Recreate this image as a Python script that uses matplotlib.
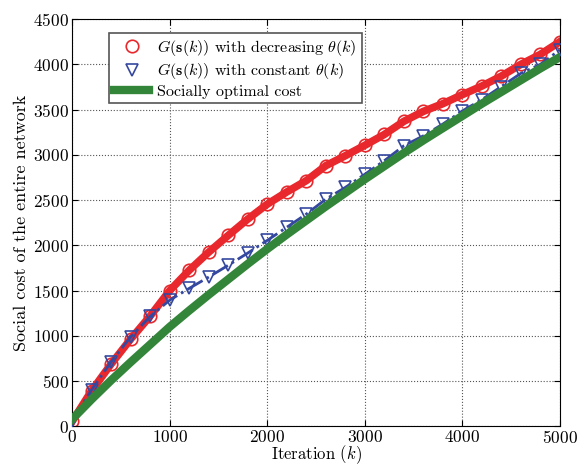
import matplotlib
matplotlib.use('Agg')
import matplotlib.pyplot as plt

iters = [0, 200, 400, 600, 800, 1000, 1200, 1400, 1600, 1800, 2000, 2200, 2400,
         2600, 2800, 3000, 3200, 3400, 3600, 3800, 4000, 4200, 4400, 4600, 4800, 5000]
cost_decreasing = [55, 395, 690, 965, 1220, 1500, 1725, 1925, 2110, 2290, 2455, 2590, 2715,
                   2880, 2990, 3105, 3225, 3370, 3480, 3565, 3665, 3760, 3870, 4000, 4110, 4250]
cost_constant = [60, 405, 715, 990, 1215, 1395, 1525, 1650, 1780, 1915, 2055, 2200, 2345,
                 2510, 2640, 2785, 2935, 3100, 3210, 3340, 3485, 3610, 3755, 3900, 4000, 4160]
cost_optimal = [80, 300, 510, 710, 905, 1100, 1280, 1455, 1625, 1795, 1960, 2120, 2275,
                2430, 2580, 2730, 2875, 3020, 3160, 3295, 3430, 3565, 3695, 3825, 3955, 4080]

plt.rcParams['font.family'] = 'serif'
plt.rcParams['font.serif'] = ['cmr10', 'DejaVu Serif']
plt.rcParams['mathtext.fontset'] = 'cm'
plt.rcParams['axes.formatter.use_mathtext'] = True

red = '#e8282c'
blue = '#3548a0'
green = '#33853a'

fig, ax = plt.subplots(figsize=(5.82, 4.65), dpi=100)
fig.subplots_adjust(left=0.124, right=0.962, bottom=0.083, top=0.959)

#lines first, markers separate so legend shows only the marker
ax.plot(iters, cost_decreasing, color=red, lw=5.5, zorder=2)
ax.plot(iters, cost_decreasing, 'o', color=red, mfc='none', mew=1.2, ms=9, zorder=2,
        label=r'$G(\mathbf{s}(k))$ with decreasing $\theta(k)$')
ax.plot(iters, cost_constant, '-.', color=blue, lw=2, zorder=3)
ax.plot(iters, cost_constant, 'v', color=blue, mfc='none', mew=1.2, ms=9, zorder=3,
        label=r'$G(\mathbf{s}(k))$ with constant $\theta(k)$')
ax.plot(iters, cost_optimal, color=green, lw=6, zorder=4, label='Socially optimal cost')

ax.set_xlim(0, 5000)
ax.set_ylim(0, 4500)
ax.set_xticks(range(0, 5001, 1000))
ax.set_yticks(range(0, 4501, 500))
ax.tick_params(direction='in', top=True, right=True, labelsize=12.5, length=4, pad=2)
ax.grid(True, linestyle=':', color='#555555', lw=0.8)
ax.set_axisbelow(True)
ax.set_xlabel(r'Iteration $(k)$', fontsize=12, labelpad=-2)
ax.set_ylabel('Social cost of the entire network', fontsize=13, labelpad=3)

leg = ax.legend(loc='upper left', bbox_to_anchor=(0.06, 0.985), fontsize=11.5,
                fancybox=False, framealpha=1, edgecolor='#555555', handlelength=2.2,
                handletextpad=0.5, borderpad=0.3, labelspacing=0.2)
leg.get_frame().set_linewidth(1.2)

plt.savefig('out.png', dpi=100)
